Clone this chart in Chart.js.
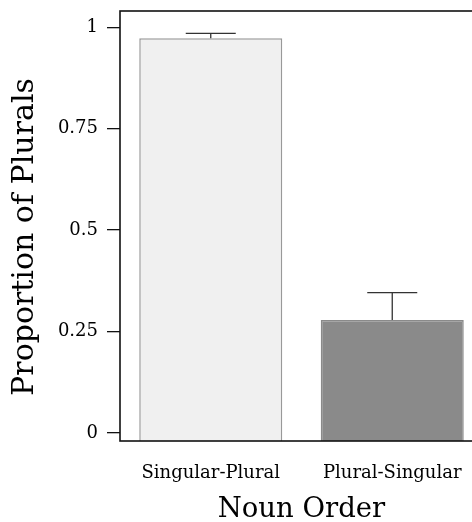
<!DOCTYPE html>
<html>
<head>
<meta charset="utf-8">
<script src="https://cdn.jsdelivr.net/npm/chart.js@4"></script>
<style>
  html, body { margin: 0; padding: 0; background: #fff; overflow: hidden; }
  #wrap { width: 484px; height: 522px; }
</style>
</head>
<body>
<div id="wrap"><canvas id="myCanvas" width="484" height="522"></canvas></div>
<script>
// data
var categories = ['Singular-Plural', 'Plural-Singular'];
var proportions = [0.973, 0.278];
var errorTops = [0.985, 0.346];
var tickValues = [0, 0.25, 0.5, 0.75, 1];
var tickLabels = ['0', '0.25', '0.5', '0.75', '1'];
var yTitle = 'Proportion of Plurals';

var serif = "'DejaVu Serif', 'Liberation Serif', serif";

// draws the box round the plot, the error bars and the y title
var extras = {
  id: 'extras',
  afterDatasetsDraw: function(chart) {
    var ctx = chart.ctx;
    var y = chart.scales.y;
    var meta = chart.getDatasetMeta(0);
    ctx.save();
    ctx.strokeStyle = '#333';
    ctx.lineWidth = 1.3;
    meta.data.forEach(function(bar, i) {
      var top = y.getPixelForValue(errorTops[i]);
      ctx.beginPath();
      ctx.moveTo(bar.x, bar.y);
      ctx.lineTo(bar.x, top);
      ctx.moveTo(bar.x - 25, top);
      ctx.lineTo(bar.x + 25, top);
      ctx.stroke();
    });
    var a = chart.chartArea;
    ctx.strokeStyle = '#111';
    ctx.lineWidth = 1.6;
    ctx.strokeRect(a.left, a.top, a.right - a.left, a.bottom - a.top);

    // y title sits a bit below the middle of the axis in the original
    ctx.translate(25, (a.top + a.bottom) / 2 + 11);
    ctx.rotate(-Math.PI / 2);
    ctx.fillStyle = '#000';
    ctx.font = '30px ' + serif;
    ctx.textAlign = 'center';
    ctx.textBaseline = 'middle';
    ctx.fillText(yTitle, 0, 0);
    ctx.restore();
  }
};

var ctx = document.getElementById('myCanvas').getContext('2d');
var myChart = new Chart(ctx, {
  type: 'bar',
  data: {
    labels: categories,
    datasets: [{
      data: proportions,
      base: -0.02,
      backgroundColor: ['#f0f0f0', '#8a8a8a'],
      borderColor: ['#999999', '#8a8a8a'],
      borderWidth: 1.5,
      barPercentage: 1,
      categoryPercentage: 0.788
    }]
  },
  options: {
    responsive: false,
    animation: false,
    layout: { autoPadding: false, padding: { top: 11, right: 1, left: 0, bottom: 0 } },
    plugins: { legend: { display: false }, tooltip: { enabled: false } },
    scales: {
      x: {
        grid: { display: false },
        border: { display: false },
        ticks: { color: '#000', font: { family: serif, size: 18 }, padding: 14 },
        title: { display: true, text: 'Noun Order', color: '#000', font: { family: serif, size: 27.5 }, padding: { top: 0, bottom: -4 } },
        afterFit: function(s) {
          s.height = 81;
          s.paddingLeft = 0; s.paddingRight = 0;
        }
      },
      y: {
        min: -0.02,
        max: 1.04,
        grid: { display: true, drawOnChartArea: false, drawTicks: true, tickLength: 13, color: '#111', lineWidth: 1.3 },
        border: { display: false },
        afterBuildTicks: function(s) {
          s.ticks = tickValues.map(function(v) { return { value: v }; });
        },
        ticks: {
          color: '#000',
          font: { family: serif, size: 18 },
          padding: 9,
          callback: function(v) { return tickLabels[tickValues.indexOf(v)]; }
        },
        afterFit: function(s) {
          s.width = 120;
          s.paddingTop = 0; s.paddingBottom = 0;
        }
      }
    }
  },
  plugins: [extras]
});
</script>
</body>
</html>
